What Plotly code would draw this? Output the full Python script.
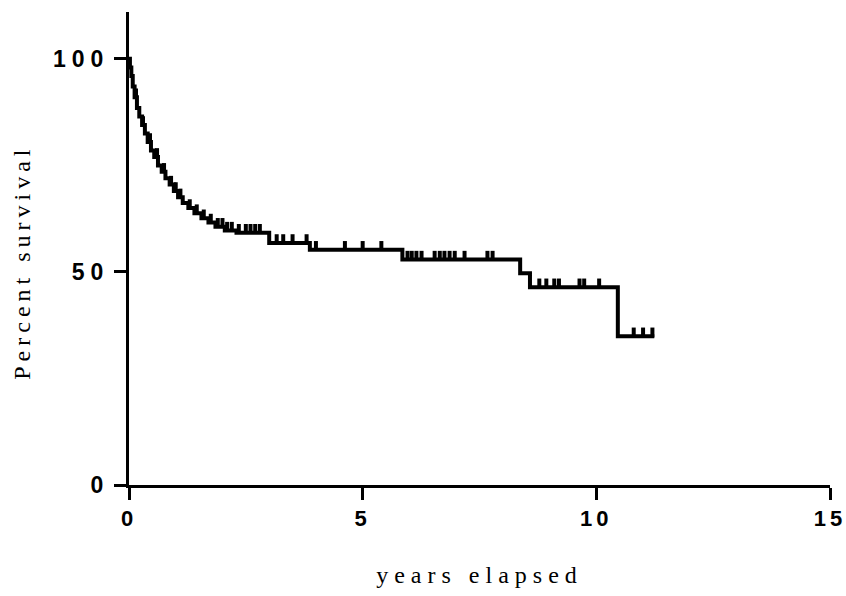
import plotly.graph_objects as go
import numpy as np

# Kaplan-Meier step curve (time in years, percent survival after step)
step_times = [0, 0.02, 0.05, 0.08, 0.12, 0.17, 0.22, 0.28, 0.34, 0.40, 0.47, 0.54,
              0.62, 0.70, 0.78, 0.87, 0.96, 1.05, 1.15, 1.27, 1.40, 1.55, 1.70,
              1.85, 2.05, 2.30, 3.00, 3.87, 5.85, 8.37, 8.58, 10.46, 11.24]
step_surv = [100, 98, 96, 93.5, 91, 88.5, 86.5, 84.5, 82.5, 80.5, 78.5, 77,
             75, 73.5, 72, 70.5, 69, 67.5, 66.2, 65, 63.8, 62.6, 61.6,
             60.6, 59.7, 59.2, 56.8, 55.2, 52.9, 49.7, 46.4, 34.9, 34.9]

# Censored observations (years)
censor_times = [0.15, 0.3, 0.45, 0.6, 0.75, 0.9, 1.0, 1.1, 1.3, 1.45, 1.6, 1.75,
                1.9, 2.0, 2.1, 2.2, 2.35, 2.5, 2.6, 2.7, 2.8,
                3.16, 3.3, 3.5, 3.8, 4.0, 4.62, 5.0, 5.4,
                5.96, 6.05, 6.15, 6.26, 6.54, 6.65, 6.75, 6.86, 6.97, 7.18, 7.67, 7.78,
                8.78, 8.93, 9.1, 9.2, 9.64, 9.74, 10.06, 10.8, 11.0, 11.2]

x_ticks = [0, 5, 10, 15]
y_ticks = [0, 50, 100]

st = np.array(step_times)
ss = np.array(step_surv)
cens_y = [ss[np.searchsorted(st, t, side="right") - 1] for t in censor_times]

fig = go.Figure()
fig.add_trace(go.Scatter(x=step_times, y=step_surv, mode="lines",
                         line=dict(shape="hv", color="black", width=4),
                         hoverinfo="skip", showlegend=False))
fig.add_trace(go.Scatter(x=censor_times, y=[v + 0.9 for v in cens_y], mode="markers",
                         marker=dict(symbol="line-ns", size=7,
                                     line=dict(color="black", width=4)),
                         showlegend=False))

fig.update_layout(
    width=846, height=596,
    margin=dict(l=129, r=16, t=12, b=111, autoexpand=False),
    plot_bgcolor="white", paper_bgcolor="white",
    font=dict(family="Liberation Sans", color="black"),
    annotations=[dict(text="Percent survival", textangle=-90,
                      xref="paper", yref="paper", x=0, y=0.472,
                      xanchor="center", yanchor="middle", xshift=-107,
                      showarrow=False,
                      font=dict(family="Liberation Serif", size=24, color="black"))],
)
fig.update_xaxes(range=[0, 15], tickvals=x_ticks, ticktext=[str(v) for v in x_ticks],
                 showgrid=False, zeroline=False, showline=True, linecolor="black",
                 linewidth=3, ticks="outside", ticklen=12, tickwidth=3, tickcolor="black",
                 ticklabeloverflow="allow", automargin=False,
                 tickfont=dict(family="Liberation Sans", size=22, color="black", weight="bold"),
                 title=dict(text="years elapsed", standoff=36,
                            font=dict(family="Liberation Serif", size=24, color="black")))
fig.update_yaxes(range=[0, 111], tickvals=y_ticks, ticktext=[str(v) for v in y_ticks],
                 showgrid=False, zeroline=False, showline=True, linecolor="black",
                 linewidth=3, ticks="outside", ticklen=12, tickwidth=3, tickcolor="black",
                 ticklabelstandoff=0, automargin=False,
                 tickfont=dict(family="Liberation Sans", size=23, color="black", weight="bold"))

post = """
var gd = document.getElementById('{plot_id}');
function spacing(){
  gd.querySelectorAll('.ytick text').forEach(function(t){ t.style.letterSpacing = '6px'; });
  gd.querySelectorAll('.xtick text').forEach(function(t){ t.style.letterSpacing = '4px'; });
  gd.querySelectorAll('.g-xtitle text').forEach(function(t){ t.style.letterSpacing = '6px'; });
  gd.querySelectorAll('.annotation-text').forEach(function(t){ t.style.letterSpacing = '5px'; });
}
spacing();
gd.on('plotly_afterplot', spacing);
"""

fig.write_html("out.html", post_script=post)
